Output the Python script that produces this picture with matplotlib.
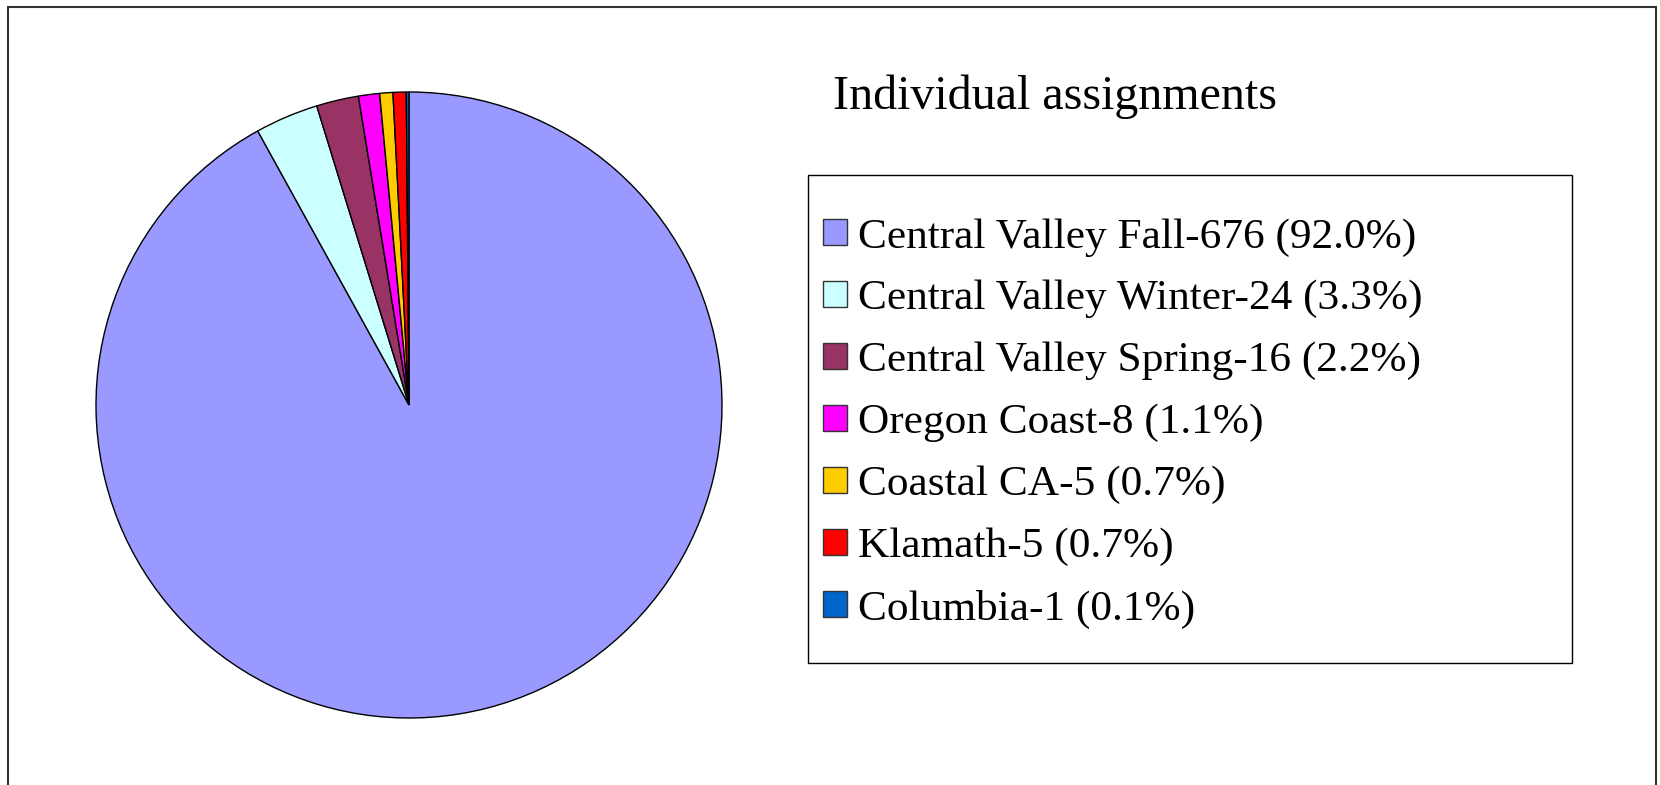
import matplotlib
matplotlib.use("Agg")
import matplotlib.pyplot as plt
from matplotlib.patches import Rectangle

stocks = ["Central Valley Fall", "Central Valley Winter", "Central Valley Spring",
          "Oregon Coast", "Coastal CA", "Klamath", "Columbia"]
counts = [676, 24, 16, 8, 5, 5, 1]
pcts = [92.0, 3.3, 2.2, 1.1, 0.7, 0.7, 0.1]
colors = ["#9999FF", "#CCFFFF", "#993366", "#FF00FF", "#FFCC00", "#FF0000", "#0066CC"]
title = "Individual assignments"

W, H = 1660, 785
plt.rcParams["font.family"] = ["Liberation Serif", "DejaVu Serif"]

fig = plt.figure(figsize=(W / 100, H / 100), dpi=100)

# outer frame (bottom edge runs off the image)
fig.patches.append(Rectangle((8 / W, -0.05), (1656 - 8) / W, (H - 7) / H + 0.05,
                             transform=fig.transFigure, fill=False,
                             edgecolor="#333333", linewidth=1.5))

# pie
cx, cy, r = 409, H - 405, 313
ax = fig.add_axes([(cx - r) / W, (cy - r) / H, 2 * r / W, 2 * r / H])
wedges, _ = ax.pie(counts, colors=colors, startangle=90, counterclock=False,
                   wedgeprops=dict(edgecolor="black", linewidth=1.0))
ax.set_xlim(-1, 1)
ax.set_ylim(-1, 1)
ax.set_aspect("equal")
ax.axis("off")

fig.text(833 / W, (H - 109) / H, title, fontsize=34.6, va="baseline", ha="left")

# legend box
fig.patches.append(Rectangle((808 / W, (H - 663) / H), (1572 - 808) / W, (663 - 175) / H,
                             transform=fig.transFigure, fill=False,
                             edgecolor="black", linewidth=1.0))

labels = [f"{s}-{c} ({p:.1f}%)" for s, c, p in zip(stocks, counts, pcts)]
leg = fig.legend(wedges, labels, loc="upper left",
                 bbox_to_anchor=(823 / W, (H - 218) / H),
                 frameon=False, fontsize=31.2, handlelength=0.55, handleheight=0.55,
                 handletextpad=0.25, labelspacing=0.54, borderpad=0, borderaxespad=0)
for h in leg.legend_handles:
    h.set_edgecolor("#333333")
    h.set_linewidth(1.0)

fig.savefig("out.png", dpi=100)
